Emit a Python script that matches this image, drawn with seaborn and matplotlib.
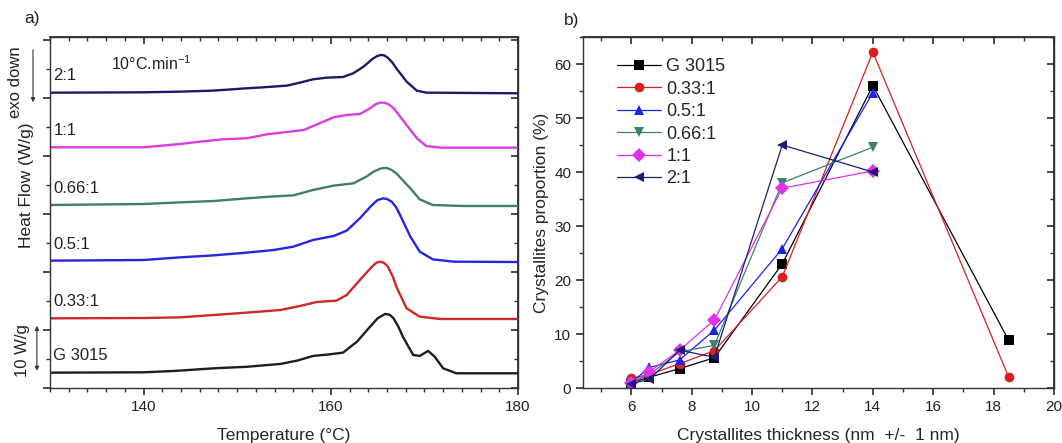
import numpy as np
import pandas as pd
import matplotlib
matplotlib.use('Agg')
import matplotlib.pyplot as plt
from matplotlib.ticker import MultipleLocator, NullFormatter
import seaborn as sns

# a) DSC heating curves, heat flow above each baseline (W/g)
samples = ['G 3015', '0.33:1', '0.5:1', '0.66:1', '1:1', '2:1']
dsc_colors = ['#1e1e1e', '#d02828', '#2626e0', '#3f7d6d', '#d83ce0', '#1c1c66']
offsets = [2.94, 13.8, 25.2, 36.4, 48.07, 58.94]

temp_g3015 = [130, 140, 143.3, 147.5, 151, 154.6, 156.4, 158.1, 159.9, 161.3, 162.8, 164.2, 165.0,
              165.8, 166.3, 166.7, 167.2, 167.7, 168.8, 169.5, 170.4, 171.1, 172.0, 173.4, 180]
hf_g3015 = [0.13, 0.2, 0.47, 1.0, 1.3, 1.87, 2.53, 3.47, 3.8, 4.13, 6.33, 9.33, 11.0,
            11.87, 11.7, 11.0, 9.4, 7.33, 3.67, 3.47, 4.47, 3.33, 1.0, 0.0, 0.0]

temp_033 = [130, 140, 143.9, 147.5, 151, 154.6, 156.7, 158.5, 160.6, 161.7, 163.1, 164.4, 164.9,
            165.3, 165.7, 166.1, 166.6, 167.0, 168.1, 169.5, 171.7, 180]
hf_033 = [0.13, 0.2, 0.33, 0.8, 1.27, 1.8, 2.6, 3.4, 3.67, 4.8, 7.8, 10.47, 11.3,
          11.47, 11.2, 10.47, 8.6, 6.47, 2.13, 0.47, 0.0, 0.0]

temp_05 = [130, 140, 143.9, 147.5, 151, 153.9, 156, 158.1, 160.3, 161.7, 163.1, 164.4, 165.0,
           165.6, 166.0, 166.5, 167.0, 167.4, 168.5, 169.5, 170.9, 173.1, 180]
hf_05 = [0.27, 0.4, 0.93, 1.33, 1.87, 2.4, 3.07, 4.4, 5.2, 6.27, 8.73, 11.4, 12.4,
         12.73, 12.6, 12.07, 10.9, 9.4, 5.07, 2.07, 0.53, 0.07, 0.0]

temp_066 = [130, 140, 143.9, 147.5, 151, 153.5, 156, 158.1, 160.3, 162.4, 163.8, 164.6, 165.3,
            165.7, 166.0, 166.5, 167.0, 168.5, 169.5, 170.9, 174.2, 180]
hf_066 = [0.2, 0.4, 0.73, 1.0, 1.53, 1.87, 2.13, 3.2, 4.07, 4.53, 5.87, 6.9, 7.47,
          7.6, 7.6, 7.2, 6.53, 3.53, 1.33, 0.2, 0.0, 0.0]

temp_11 = [130, 140, 143.9, 146.0, 148.5, 151.0, 153.2, 155.6, 157.1, 158.8, 160.3, 161.7, 163.1,
           164.2, 164.8, 165.3, 165.7, 166.1, 166.6, 167.0, 168.1, 169.2, 170.2, 171.7, 180]
hf_11 = [0.07, 0.07, 0.73, 1.2, 1.67, 1.87, 2.67, 3.2, 3.53, 4.87, 6.07, 6.53, 6.73,
         7.87, 8.7, 9.0, 9.0, 8.73, 8.1, 7.2, 4.53, 1.87, 0.33, 0.0, 0.0]

temp_21 = [130, 140, 143.9, 147.4, 151.0, 152.8, 155.3, 156.7, 158.1, 159.6, 161.3, 162.4, 163.5,
           164.4, 164.9, 165.3, 165.7, 166.1, 166.6, 167.0, 168.1, 169.2, 170.2, 180]
hf_21 = [0.12, 0.2, 0.33, 0.53, 1.0, 1.2, 1.53, 2.13, 2.8, 3.13, 3.26, 4.0, 5.33,
         6.8, 7.4, 7.66, 7.6, 7.1, 6.1, 5.0, 2.33, 0.53, 0.13, 0.0]

dsc_temps = [temp_g3015, temp_033, temp_05, temp_066, temp_11, temp_21]
dsc_flows = [hf_g3015, hf_033, hf_05, hf_066, hf_11, hf_21]

# b) crystallite thickness distribution
thickness = [6, 6.6, 7.6, 8.75, 11, 14, 18.5]
prop_g3015 = [1.0, 2.0, 3.6, 5.6, 23.0, 56.0, 8.8]
prop_033 = [1.8, 2.5, 4.5, 6.9, 20.6, 62.2, 2.0]
prop_05 = [1.0, 3.8, 5.2, 10.7, 25.8, 54.7]
prop_066 = [1.0, 2.5, 6.7, 7.9, 38.0, 44.6]
prop_11 = [0.9, 3.0, 7.0, 12.6, 37.0, 40.2]
prop_21 = [0.8, 1.6, 7.0, 5.7, 45.0, 40.0]
props = [prop_g3015, prop_033, prop_05, prop_066, prop_11, prop_21]
pt_colors = ['#000000', '#d42020', '#1f1ff0', '#3e7f70', '#e033e8', '#1c1c70']
pt_markers = ['s', 'o', '^', 'v', 'D', '<']

sns.set_theme(style='ticks')
plt.rcParams['font.family'] = ['Liberation Sans', 'DejaVu Sans']
plt.rcParams['mathtext.default'] = 'regular'

fig = plt.figure(figsize=(10.62, 4.43), dpi=100)
ax1 = fig.add_axes([50/1062, 55/443, 468/1062, 351/443])
ax2 = fig.add_axes([583/1062, 55/443, 471/1062, 351/443])

for name, T, hf, off, c in zip(samples, dsc_temps, dsc_flows, offsets, dsc_colors):
    sns.lineplot(x=T, y=np.array(hf) + off, ax=ax1, color=c, lw=1.7,
                 solid_joinstyle='round')
    ax1.text(130.35, off + 3.5, name, fontsize=12, ha='left', va='center', color='#222')

ax1.text(136.5, 64.8, '10°C.min$^{-1}$', fontsize=11.5, ha='left', va='center', color='#222')
ax1.set_xlim(130, 180)
ax1.set_ylim(0, 70.2)
ax1.xaxis.set_major_locator(MultipleLocator(20))
ax1.xaxis.set_minor_locator(MultipleLocator(2))
ax1.yaxis.set_major_locator(MultipleLocator(11.6))
ax1.yaxis.set_minor_locator(MultipleLocator(5.8))
ax1.yaxis.set_major_formatter(NullFormatter())
ax1.set_xlabel('Temperature (°C)', fontsize=12.5, labelpad=10)
ax1.set_ylabel('')

# scale bar and exo arrow
ax1.annotate('', xy=(-0.028, 2.9), xytext=(-0.028, 13.0),
             xycoords=('axes fraction', 'data'), textcoords=('axes fraction', 'data'),
             arrowprops=dict(arrowstyle='<|-|>', color='#333', lw=0.8, mutation_scale=6))
fig.text(22/1062, 1 - 351/443, '10 W/g', rotation=90, fontsize=12, ha='center', va='center', color='#222')
fig.text(26/1062, 1 - 185/443, 'Heat Flow (W/g)', rotation=90, fontsize=12.5, ha='center', va='center', color='#222')
fig.text(16/1062, 1 - 82/443, 'exo down', rotation=90, fontsize=12, ha='center', va='center', color='#222')
fig.patches.append(matplotlib.patches.FancyArrowPatch(
    (33/1062, 1 - 47/443), (33/1062, 1 - 105/443), transform=fig.transFigure,
    arrowstyle='-|>', mutation_scale=6, color='#333', lw=0.8))

long = pd.DataFrame({
    'thickness': np.concatenate([thickness[:len(p)] for p in props]),
    'proportion': np.concatenate(props),
    'sample': np.concatenate([[s] * len(p) for s, p in zip(samples, props)]),
})
sns.lineplot(data=long, x='thickness', y='proportion', hue='sample', style='sample',
             hue_order=samples, style_order=samples,
             palette=dict(zip(samples, pt_colors)), markers=dict(zip(samples, pt_markers)),
             dashes=False, lw=0.9, markersize=7, mew=0, ax=ax2)
ax2.set_xlim(4.4, 20)
ax2.set_ylim(0, 65)
ax2.xaxis.set_major_locator(MultipleLocator(2))
ax2.xaxis.set_minor_locator(MultipleLocator(1))
ax2.yaxis.set_major_locator(MultipleLocator(10))
ax2.yaxis.set_minor_locator(MultipleLocator(5))
ax2.set_xlabel('Crystallites thickness (nm  +/-  1 nm)', fontsize=12.5, labelpad=10)
ax2.set_ylabel('Crystallites proportion (%)', fontsize=12.5, labelpad=4)
h, l = ax2.get_legend_handles_labels()
ax2.legend(h, l, loc='upper left', bbox_to_anchor=(0.05, 0.97), frameon=False, fontsize=13,
           handlelength=2.4, labelspacing=0.3, handletextpad=0.3, borderaxespad=0.2)

for ax in (ax1, ax2):
    for sp in ax.spines.values():
        sp.set_visible(True)
        sp.set_color('#333')
        sp.set_linewidth(1.0)
    ax.tick_params(which='both', direction='out', colors='#333', labelcolor='#222', labelsize=11)
    ax.tick_params(which='major', length=5)
    ax.tick_params(which='minor', length=3)
    top = ax.secondary_xaxis('top')
    top.xaxis.set_major_locator(ax.xaxis.get_major_locator())
    top.xaxis.set_minor_locator(ax.xaxis.get_minor_locator())
    top.tick_params(which='both', direction='in', labeltop=False, colors='#333')
    top.tick_params(which='major', length=5)
    top.tick_params(which='minor', length=3)
    right = ax.secondary_yaxis('right')
    right.yaxis.set_major_locator(ax.yaxis.get_major_locator())
    right.yaxis.set_minor_locator(ax.yaxis.get_minor_locator())
    right.tick_params(which='both', direction='in', labelright=False, colors='#333')
    right.tick_params(which='major', length=5)
    right.tick_params(which='minor', length=3)
ax1.tick_params(axis='y', which='both', labelleft=False)

fig.text(32/1062, 1 - 19/443, 'a)', fontsize=12.5, ha='center', va='center', color='#222')
fig.text(572/1062, 1 - 21/443, 'b)', fontsize=12.5, ha='center', va='center', color='#222')

fig.savefig('out.png', dpi=100, facecolor='white')
